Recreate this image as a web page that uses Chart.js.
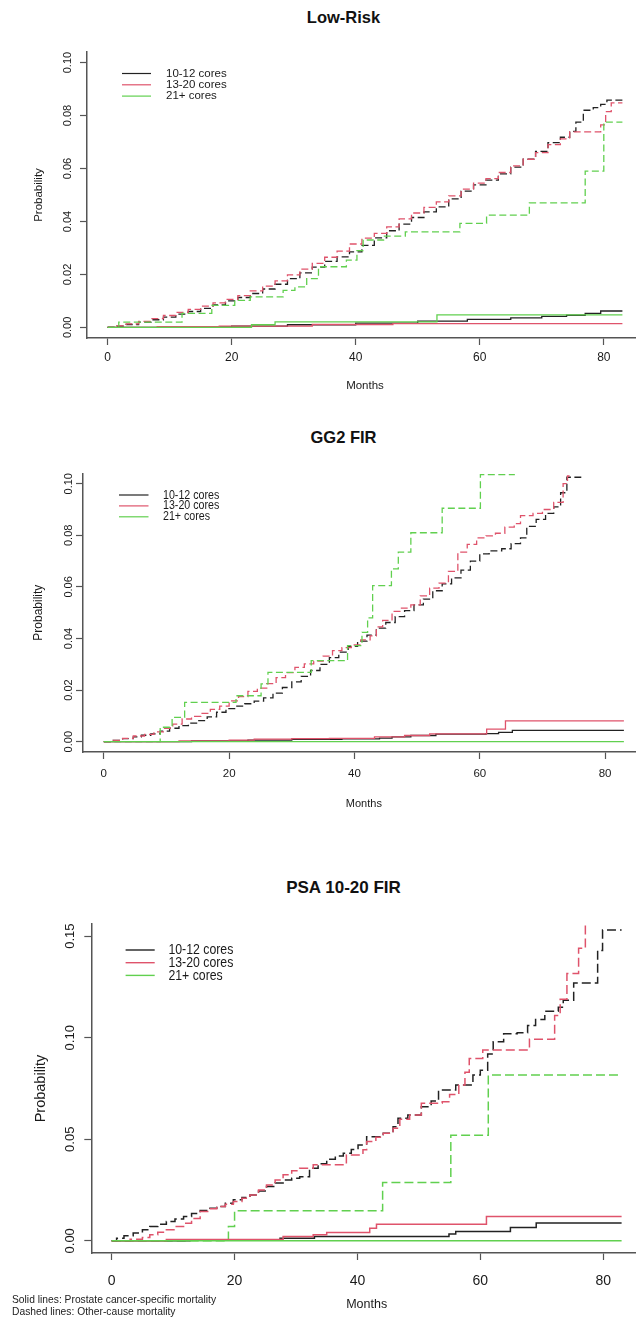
<!DOCTYPE html>
<html>
<head>
<meta charset="utf-8">
<script src="https://cdn.jsdelivr.net/npm/chart.js@4.4.1/dist/chart.umd.min.js"></script>
<style>
  html, body { margin: 0; padding: 0; background: #fff; }
  #page { position: relative; width: 636px; height: 1330px; overflow: hidden; background: #fff; }
  canvas { position: absolute; left: 0; }
  .ttl { position: absolute; left: 0; width: 687px; text-align: center; font: bold 16.5px 'Liberation Sans', Arial, sans-serif; line-height: 20px; color: #111; white-space: nowrap; }
  .note { position: absolute; left: 12px; font: 11px 'Liberation Sans', Arial, sans-serif; line-height: 12px; color: #222; white-space: nowrap; transform: scaleX(0.935); transform-origin: 0 50%; }
</style>
</head>
<body>
<div id="page">
  <div class="ttl" id="t1" style="top:7px"></div>
  <canvas id="c1" width="650" height="400" style="top:0px"></canvas>
  <div class="ttl" id="t2" style="top:427px"></div>
  <canvas id="c2" width="650" height="400" style="top:420px"></canvas>
  <div class="ttl" id="t3" style="top:878px;font-size:17px"></div>
  <canvas id="c3" width="650" height="470" style="top:860px"></canvas>
  <div class="note" id="n1" style="top:1293px"></div>
  <div class="note" id="n2" style="top:1305px"></div>
</div>
<script>
// ---------- data ----------
const panelTitles = ['Low-Risk', 'GG2 FIR', 'PSA 10-20 FIR'];
const seriesLabels = ['10-12 cores', '13-20 cores', '21+ cores'];
const xTickValues = [0, 20, 40, 60, 80];
const yTicksLowGg2 = [0, 0.02, 0.04, 0.06, 0.08, 0.10];
const yTicksPsa = [0, 0.05, 0.10, 0.15];
const footnotes = ['Solid lines: Prostate cancer-specific mortality', 'Dashed lines: Other-cause mortality'];

// Low-Risk: [month, cumulative probability] step points
const lowRiskOcm1012 = [[0,0],[1.5,0.0005],[3,0.0011],[5,0.002],[7,0.0029],[9,0.0039],[11,0.005],[13,0.006],[15,0.0072],[17,0.0085],[19,0.0100],[21,0.0113],[23,0.0128],[25,0.0145],[27,0.0163],[29,0.0184],[31,0.0206],[33,0.0228],[35,0.0249],[37,0.0266],[39,0.0285],[41,0.031],[43,0.0338],[45,0.0365],[47,0.039],[49,0.0415],[51,0.0436],[53,0.0455],[55,0.0485],[57,0.0515],[59,0.0538],[61,0.0556],[63,0.058],[65,0.0605],[67,0.0635],[69,0.0665],[71,0.0698],[73,0.0718],[74.5,0.074],[75.5,0.0775],[76.7,0.082],[78.3,0.083],[79.5,0.0842],[80.5,0.0858],[83,0.0858]];
const lowRiskOcm1320 = [[0,0],[1.5,0.0006],[3,0.0013],[5,0.0023],[7,0.0033],[9,0.0045],[11,0.0057],[13,0.0068],[15,0.008],[17,0.0093],[19,0.0106],[21,0.012],[23,0.0138],[25,0.0156],[27,0.0176],[29,0.0198],[31,0.022],[33,0.0242],[35,0.0265],[37,0.0288],[39,0.0315],[41,0.0337],[43,0.0355],[45,0.038],[47,0.041],[49,0.0432],[51,0.0453],[53,0.0474],[55,0.0497],[57,0.0522],[59,0.0545],[61,0.0562],[63,0.0585],[65,0.061],[67,0.0635],[69,0.066],[71,0.069],[73,0.0712],[74.5,0.0738],[79.5,0.0765],[80.3,0.0815],[81.2,0.0848],[83,0.0848]];
const lowRiskOcm21 = [[0,0],[1.8,0.002],[12,0.0053],[16.8,0.0083],[20.5,0.0102],[23,0.0115],[28.3,0.014],[30.2,0.0153],[32.1,0.0184],[34,0.0229],[38.5,0.0254],[40.2,0.029],[41.2,0.033],[44.5,0.0345],[48,0.0361],[56.8,0.0393],[61.1,0.0424],[68,0.047],[77,0.059],[80,0.0775],[83,0.0775]];
const lowRiskPcsm1012 = [[0,0],[10,0.0002],[20,0.0005],[29,0.001],[40,0.0016],[50,0.0024],[58,0.003],[65,0.0036],[70,0.0042],[74,0.0046],[77,0.0053],[79.5,0.0062],[83,0.0062]];
const lowRiskPcsm1320 = [[0,0],[8,0.0003],[18,0.0005],[33,0.0011],[46,0.0014],[83,0.0014]];
const lowRiskPcsm21 = [[0,0],[23.2,0.001],[27,0.0021],[53.1,0.0047],[83,0.0047]];

// GG2 FIR
const gg2Ocm1012 = [[0,0],[1.5,0.0005],[3,0.0012],[4.7,0.0019],[6,0.0025],[7.5,0.003],[9,0.0041],[10.5,0.0052],[12,0.0062],[13.5,0.0072],[15,0.0082],[16.5,0.0096],[18,0.0114],[19.5,0.0128],[21,0.0138],[22.5,0.0147],[24,0.0157],[25.5,0.017],[27,0.0188],[28.5,0.021],[30,0.0232],[31.5,0.0253],[33,0.0276],[34.5,0.03],[36,0.0326],[37.5,0.0347],[39,0.037],[40.5,0.039],[42,0.0413],[43.5,0.044],[45,0.0462],[46.5,0.0485],[48,0.0508],[49.5,0.053],[51,0.0553],[52.5,0.0585],[54,0.0612],[55.5,0.0635],[57,0.0665],[58.5,0.07],[60,0.0728],[61.5,0.074],[63.5,0.0748],[65,0.0768],[66.5,0.079],[67.5,0.0835],[69,0.0862],[70.5,0.0885],[71.8,0.091],[72.9,0.0965],[73.9,0.1025],[76.2,0.1025]];
const gg2Ocm1320 = [[0,0],[1.5,0.0005],[3,0.0013],[4.7,0.0022],[6.5,0.0028],[8,0.0038],[9.5,0.0052],[11,0.0068],[12.5,0.0088],[14,0.0098],[15.5,0.011],[17,0.0125],[18.5,0.0138],[20,0.0158],[21.5,0.0175],[23,0.0195],[24.5,0.0208],[26,0.0225],[27.5,0.0248],[29,0.0268],[30.5,0.0288],[32,0.0302],[33.5,0.0312],[35,0.0332],[36.5,0.0353],[38,0.0365],[39.5,0.0375],[41,0.0395],[42.5,0.041],[43.5,0.0445],[44.5,0.047],[46,0.0505],[47.5,0.0518],[49,0.053],[50.5,0.0565],[52,0.0595],[53.5,0.0615],[55,0.066],[56.5,0.0735],[58,0.0765],[59.5,0.079],[61,0.0798],[62.5,0.0808],[64,0.0832],[65.5,0.0845],[66.5,0.0876],[68.5,0.0885],[70,0.09],[71.8,0.0928],[73.3,0.1],[74,0.103],[74.7,0.103]];
const gg2Ocm21 = [[0,0],[9,0.0056],[10.9,0.0094],[12.9,0.0152],[21.1,0.0178],[25.1,0.0224],[26.2,0.0269],[33.1,0.0314],[38.9,0.0372],[41.2,0.0424],[42.1,0.048],[42.9,0.0605],[45.9,0.067],[47,0.0735],[49,0.081],[54,0.0905],[60.1,0.1035],[65.6,0.1035]];
const gg2Pcsm1012 = [[0,0],[14,0.0003],[23,0.0006],[30,0.0009],[38,0.0011],[44,0.0014],[46,0.0019],[49,0.0024],[53,0.0029],[61,0.0031],[63,0.0036],[65.2,0.0044],[83,0.0044]];
const gg2Pcsm1320 = [[0,0],[12,0.0003],[20,0.0006],[24,0.001],[30,0.0012],[36,0.0013],[43.2,0.0019],[48,0.0024],[52,0.003],[61.1,0.0049],[64.1,0.0081],[83,0.0081]];
const gg2Pcsm21 = [[0,0],[83,0]];

// PSA 10-20 FIR
const psaOcm1012 = [[0,0],[0.8,0.0013],[2,0.0025],[3.5,0.0038],[5,0.0055],[6.2,0.007],[7.5,0.0082],[8.9,0.0095],[10.3,0.0108],[11.7,0.012],[13,0.0135],[14.4,0.0149],[15.8,0.016],[17.1,0.0169],[18.5,0.0185],[19.8,0.0202],[21.2,0.0213],[22.5,0.0226],[23.9,0.0245],[25.2,0.0267],[26.6,0.0285],[27.9,0.03],[29.3,0.0308],[30.6,0.0316],[32.2,0.0357],[33.6,0.038],[35,0.0402],[36.4,0.0418],[37.7,0.0431],[39,0.045],[40.1,0.0472],[41.5,0.0513],[44.2,0.053],[45.8,0.0562],[46.6,0.0603],[48.2,0.062],[50.4,0.066],[52,0.0688],[53.2,0.0743],[56,0.0767],[58.8,0.0816],[60,0.084],[61.2,0.092],[62.1,0.098],[63.8,0.102],[66,0.1025],[67.7,0.106],[69,0.109],[70.5,0.113],[72.7,0.115],[73.5,0.1185],[75.2,0.127],[79.1,0.143],[79.9,0.153],[83,0.153]];
const psaOcm1320 = [[0,0],[3,0.0008],[5,0.0016],[6.2,0.003],[7.5,0.0042],[8.9,0.0054],[10.3,0.007],[11.7,0.0087],[13,0.011],[14.4,0.0144],[15.8,0.0158],[17.1,0.0169],[18.5,0.018],[19.8,0.0193],[21.2,0.021],[22.5,0.0226],[23.9,0.025],[25.2,0.0275],[26.6,0.03],[27.9,0.0325],[29.3,0.0345],[30.6,0.0357],[32.8,0.0374],[38.2,0.0423],[40.9,0.0448],[41.5,0.0489],[43,0.051],[44.2,0.053],[45.8,0.0554],[46.9,0.0598],[48.5,0.062],[50.4,0.0677],[53.8,0.0685],[55,0.072],[56.5,0.0767],[57.5,0.083],[58.2,0.0898],[60.4,0.094],[68,0.0993],[72.1,0.111],[73,0.119],[74.1,0.1316],[76,0.144],[77.1,0.165],[77.5,0.165]];
const psaOcm21 = [[0,0],[19,0.007],[20,0.0148],[44.1,0.0287],[55.2,0.052],[61.3,0.0816],[83,0.0816]];
const psaPcsm1012 = [[0,0],[12.7,0.0005],[27.4,0.0013],[33,0.0021],[54.9,0.0033],[56,0.0046],[64.9,0.0066],[69.1,0.0088],[83,0.0088]];
const psaPcsm1320 = [[0,0],[8.9,0.0006],[27.9,0.0021],[32.8,0.003],[35,0.0041],[42,0.0062],[43.1,0.0082],[61,0.012],[83,0.012]];
const psaPcsm21 = [[0,0],[83,0]];

// ---------- styling ----------
const COLORS = ['#222222', '#DF536B', '#61D04F'];
const AXIS = '#555555';
const TEXT = '#1a1a1a';
const SANS = "'Liberation Sans', Arial, Helvetica, sans-serif";

document.getElementById('t1').textContent = panelTitles[0];
document.getElementById('t2').textContent = panelTitles[1];
document.getElementById('t3').textContent = panelTitles[2];
document.getElementById('n1').textContent = footnotes[0];
document.getElementById('n2').textContent = footnotes[1];

const measureCtx = document.createElement('canvas').getContext('2d');
function textW(font, txt) {
  measureCtx.font = font.size + 'px ' + font.family;
  return measureCtx.measureText(txt).width;
}

const cornerLegend = {
  id: 'cornerLegend',
  afterDatasetsDraw(chart, args, o) {
    const ctx = chart.ctx;
    ctx.save();
    ctx.font = o.size + 'px ' + o.family;
    ctx.textBaseline = 'middle';
    ctx.textAlign = 'left';
    o.labels.forEach((lab, i) => {
      const y = o.y + i * o.gap;
      ctx.strokeStyle = o.colors[i];
      ctx.lineWidth = o.lineWidth;
      ctx.setLineDash([]);
      ctx.beginPath();
      ctx.moveTo(o.x0, y);
      ctx.lineTo(o.x1, y);
      ctx.stroke();
      ctx.fillStyle = TEXT;
      ctx.save();
      ctx.translate(o.tx, y);
      ctx.scale(o.stretch || 1, 1);
      ctx.fillText(lab, 0, 0);
      ctx.restore();
    });
    ctx.restore();
  }
};

function buildPanel(id, p) {
  const el = document.getElementById(id);
  const W = el.width, H = el.height;
  const tl = 7;
  const yLabW = textW(p.yTickFont, p.yTickFmt(p.yTicks[p.yTicks.length - 1]));
  const yTickPad = p.area.left - tl - p.yLabCenter - yLabW / 2;
  const xTickPad = p.xLabCenter - p.area.bottom - tl - p.xTickFont.size * 1.2 / 2;
  const xTitlePad = H - p.xTitleCenter - p.xTitleFont.size * 1.2 / 2;
  const yTitlePad = p.yTitleCenter - p.yTitleFont.size * 1.2 / 2;

  const ds = [];
  const solid = [p.pcsm[2], p.pcsm[1], p.pcsm[0]];
  const dashed = [p.ocm[2], p.ocm[1], p.ocm[0]];
  solid.forEach((pts, k) => ds.push({
    label: seriesLabels[2 - k] + ' PCSM', data: pts.map(([x, y]) => ({x, y})),
    borderColor: COLORS[2 - k], borderWidth: p.lineWidth, borderDash: [],
    pointRadius: 0, pointHoverRadius: 0, stepped: true, fill: false, tension: 0
  }));
  dashed.forEach((pts, k) => ds.push({
    label: seriesLabels[2 - k] + ' OCM', data: pts.map(([x, y]) => ({x, y})),
    borderColor: COLORS[2 - k], borderWidth: p.lineWidth, borderDash: p.dash,
    pointRadius: 0, pointHoverRadius: 0, stepped: true, fill: false, tension: 0
  }));

  return new Chart(el, {
    type: 'line',
    data: { datasets: ds },
    options: {
      responsive: false, animation: false, devicePixelRatio: 1, events: [],
      layout: { padding: { left: 0, top: p.area.top, right: W - p.area.right, bottom: 0 } },
      plugins: {
        legend: { display: false }, tooltip: { enabled: false }, title: { display: false },
        cornerLegend: Object.assign({ labels: seriesLabels, colors: COLORS }, p.legend)
      },
      scales: {
        x: {
          type: 'linear', min: -3.32, max: 86.32,
          afterFit: s => { s.height = H - p.area.bottom; },
          afterBuildTicks: s => { s.ticks = xTickValues.map(v => ({ value: v })); },
          grid: { display: true, drawOnChartArea: false, drawTicks: true, tickLength: tl, tickColor: AXIS, tickWidth: 1.2 },
          border: { display: true, color: AXIS, width: 1.5 },
          ticks: { font: p.xTickFont, color: TEXT, padding: xTickPad, maxRotation: 0, minRotation: 0, autoSkip: false, callback: v => String(v) },
          title: { display: true, text: 'Months', font: p.xTitleFont, color: TEXT, padding: { top: 0, bottom: xTitlePad } }
        },
        y: {
          type: 'linear', min: p.yMin, max: p.yMax,
          afterFit: s => { s.width = p.area.left; },
          afterBuildTicks: s => { s.ticks = p.yTicks.map(v => ({ value: v })); },
          grid: { display: true, drawOnChartArea: false, drawTicks: true, tickLength: tl, tickColor: AXIS, tickWidth: 1.2 },
          border: { display: true, color: AXIS, width: 1.5 },
          ticks: { font: p.yTickFont, color: TEXT, padding: yTickPad, minRotation: 90, maxRotation: 90, crossAlign: 'center', autoSkip: false, callback: p.yTickFmt },
          title: { display: true, text: 'Probability', font: p.yTitleFont, color: TEXT, padding: { top: yTitlePad, bottom: 0 } }
        }
      }
    },
    plugins: [cornerLegend]
  });
}

const fmt2 = v => Number(v).toFixed(2);

buildPanel('c1', {
  area: { left: 87, top: 52, right: 643, bottom: 338 },
  yMin: -0.004, yMax: 0.104, yTicks: yTicksLowGg2, yTickFmt: fmt2,
  yTickFont: { family: SANS, size: 11 }, yLabCenter: 68,
  xTickFont: { family: SANS, size: 12 }, xLabCenter: 358,
  xTitleFont: { family: SANS, size: 11.5 }, xTitleCenter: 386,
  yTitleFont: { family: SANS, size: 11.5 }, yTitleCenter: 39,
  lineWidth: 1.3, dash: [7, 3.5],
  ocm: [lowRiskOcm1012, lowRiskOcm1320, lowRiskOcm21],
  pcsm: [lowRiskPcsm1012, lowRiskPcsm1320, lowRiskPcsm21],
  legend: { x0: 122, x1: 151, tx: 166, y: 73.5, gap: 11.3, size: 11.5, family: SANS, lineWidth: 1.2, stretch: 1 }
});

buildPanel('c2', {
  area: { left: 83, top: 53.4, right: 644.7, bottom: 332 },
  yMin: -0.004, yMax: 0.104, yTicks: yTicksLowGg2, yTickFmt: fmt2,
  yTickFont: { family: SANS, size: 11 }, yLabCenter: 69,
  xTickFont: { family: SANS, size: 11.5 }, xLabCenter: 354,
  xTitleFont: { family: SANS, size: 11 }, xTitleCenter: 384,
  yTitleFont: { family: SANS, size: 12 }, yTitleCenter: 38.5,
  lineWidth: 1.3, dash: [7, 3.5],
  ocm: [gg2Ocm1012, gg2Ocm1320, gg2Ocm21],
  pcsm: [gg2Pcsm1012, gg2Pcsm1320, gg2Pcsm21],
  legend: { x0: 119, x1: 148.5, tx: 163, y: 75, gap: 10.9, size: 13, family: SANS, lineWidth: 1.2, stretch: 0.82 }
});

buildPanel('c3', {
  area: { left: 91.3, top: 64, right: 642, bottom: 393 },
  yMin: -0.006, yMax: 0.156, yTicks: yTicksPsa, yTickFmt: fmt2,
  yTickFont: { family: SANS, size: 13 }, yLabCenter: 70,
  xTickFont: { family: SANS, size: 14 }, xLabCenter: 421,
  xTitleFont: { family: SANS, size: 12.5 }, xTitleCenter: 445,
  yTitleFont: { family: SANS, size: 14.5 }, yTitleCenter: 41,
  lineWidth: 1.5, dash: [9, 4],
  ocm: [psaOcm1012, psaOcm1320, psaOcm21],
  pcsm: [psaPcsm1012, psaPcsm1320, psaPcsm21],
  legend: { x0: 125.6, x1: 154.7, tx: 168.4, y: 90, gap: 12.7, size: 15, family: SANS, lineWidth: 1.4, stretch: 0.82 }
});
</script>
</body>
</html>
